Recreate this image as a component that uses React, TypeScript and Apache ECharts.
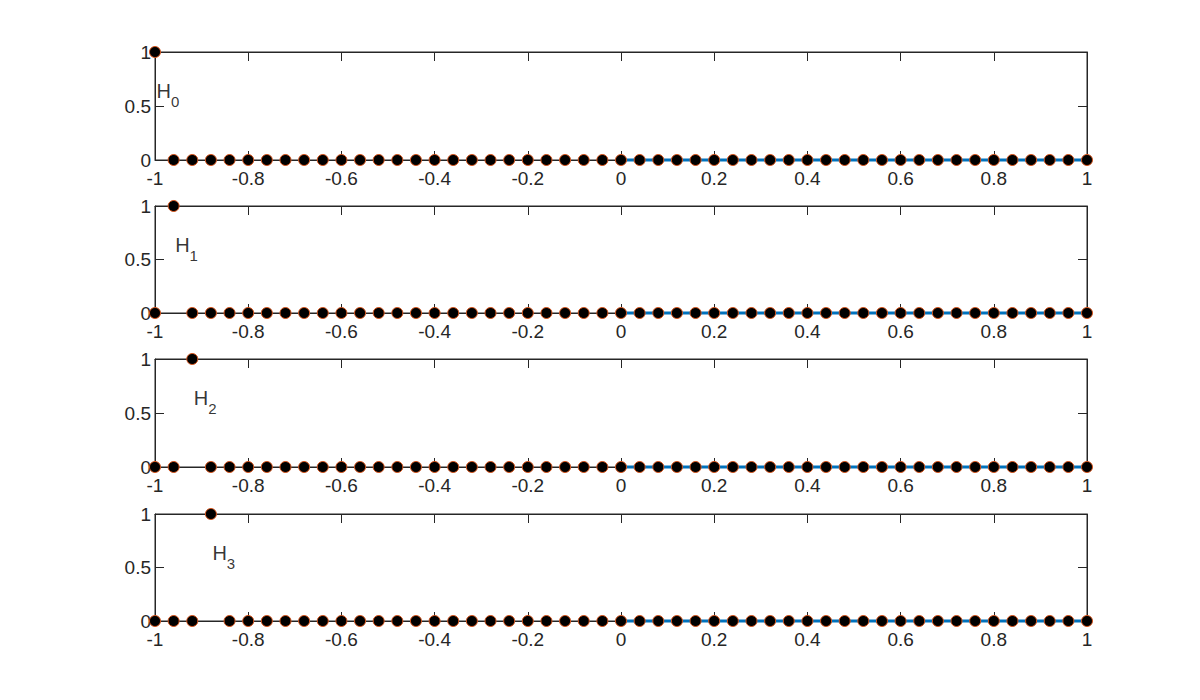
import React, { useEffect, useRef } from "react";
import * as echarts from "echarts";

const xValues = [
  -1, -0.96, -0.92, -0.88, -0.84, -0.8, -0.76, -0.72, -0.68, -0.64,
  -0.6, -0.56, -0.52, -0.48, -0.44, -0.4, -0.36, -0.32, -0.28, -0.24,
  -0.2, -0.16, -0.12, -0.08, -0.04, 0, 0.04, 0.08, 0.12, 0.16,
  0.2, 0.24, 0.28, 0.32, 0.36, 0.4, 0.44, 0.48, 0.52, 0.56,
  0.6, 0.64, 0.68, 0.72, 0.76, 0.8, 0.84, 0.88, 0.92, 0.96, 1,
];

const H0 = [
  1, 0, 0, 0, 0, 0, 0, 0, 0, 0, 0, 0, 0, 0, 0, 0, 0, 0, 0, 0, 0, 0, 0, 0, 0,
  0, 0, 0, 0, 0, 0, 0, 0, 0, 0, 0, 0, 0, 0, 0, 0, 0, 0, 0, 0, 0, 0, 0, 0, 0, 0,
];
const H1 = [
  0, 1, 0, 0, 0, 0, 0, 0, 0, 0, 0, 0, 0, 0, 0, 0, 0, 0, 0, 0, 0, 0, 0, 0, 0,
  0, 0, 0, 0, 0, 0, 0, 0, 0, 0, 0, 0, 0, 0, 0, 0, 0, 0, 0, 0, 0, 0, 0, 0, 0, 0,
];
const H2 = [
  0, 0, 1, 0, 0, 0, 0, 0, 0, 0, 0, 0, 0, 0, 0, 0, 0, 0, 0, 0, 0, 0, 0, 0, 0,
  0, 0, 0, 0, 0, 0, 0, 0, 0, 0, 0, 0, 0, 0, 0, 0, 0, 0, 0, 0, 0, 0, 0, 0, 0, 0,
];
const H3 = [
  0, 0, 0, 1, 0, 0, 0, 0, 0, 0, 0, 0, 0, 0, 0, 0, 0, 0, 0, 0, 0, 0, 0, 0, 0,
  0, 0, 0, 0, 0, 0, 0, 0, 0, 0, 0, 0, 0, 0, 0, 0, 0, 0, 0, 0, 0, 0, 0, 0, 0, 0,
];
const seriesValues = [H0, H1, H2, H3];

const labelSubscripts = ["0", "1", "2", "3"];
const labelX = [-1, -0.96, -0.92, -0.88];
const labelY = [0.6, 0.6, 0.6, 0.6];

const lineX = [0, 1];
const lineY = [0, 0];

const gridTops = [52, 206, 359, 514];
const gridHeights = [108, 107, 108, 107];

const AX = "#262626";
const FONT = "Liberation Sans";

export default function App() {
  const ref = useRef<HTMLDivElement>(null);

  useEffect(() => {
    if (!ref.current) return;
    const chart = echarts.init(ref.current, undefined, { renderer: "svg" });

    const grids: any[] = [];
    const xAxes: any[] = [];
    const yAxes: any[] = [];
    const series: any[] = [];

    const tick = { show: true, inside: true, length: 9, lineStyle: { color: AX, width: 1 } };
    const line = { show: true, onZero: false, lineStyle: { color: AX, width: 1 } };
    const fmt = (v: number) => String(parseFloat(v.toFixed(2)));

    for (let i = 0; i < 4; i++) {
      grids.push({
        left: 155,
        right: 113,
        top: gridTops[i],
        height: gridHeights[i],
        show: true,
        borderColor: AX,
        borderWidth: 1,
        backgroundColor: "#fff",
      });
      xAxes.push({
        gridIndex: i,
        type: "value",
        min: -1,
        max: 1,
        interval: 0.2,
        position: "bottom",
        axisLine: line,
        axisTick: tick,
        splitLine: { show: false },
        axisLabel: {
          show: true,
          color: AX,
          fontSize: 19,
          fontFamily: FONT,
          margin: 9,
          formatter: fmt,
        },
      });
      xAxes.push({
        gridIndex: i,
        type: "value",
        min: -1,
        max: 1,
        interval: 0.2,
        position: "top",
        axisLine: line,
        axisTick: tick,
        splitLine: { show: false },
        axisLabel: { show: false },
      });
      yAxes.push({
        gridIndex: i,
        type: "value",
        min: 0,
        max: 1,
        interval: 0.5,
        position: "left",
        axisLine: line,
        axisTick: tick,
        splitLine: { show: false },
        axisLabel: {
          show: true,
          color: AX,
          fontSize: 19,
          fontFamily: FONT,
          margin: 4,
          formatter: fmt,
        },
      });
      yAxes.push({
        gridIndex: i,
        type: "value",
        min: 0,
        max: 1,
        interval: 0.5,
        position: "right",
        axisLine: line,
        axisTick: tick,
        splitLine: { show: false },
        axisLabel: { show: false },
      });

      series.push({
        type: "line",
        xAxisIndex: 2 * i,
        yAxisIndex: 2 * i,
        data: lineX.map((x, j) => [x, lineY[j]]),
        symbol: "none",
        lineStyle: { color: "#0072BD", width: 3 },
        z: 3,
        clip: false,
        silent: true,
      });
      series.push({
        type: "scatter",
        xAxisIndex: 2 * i,
        yAxisIndex: 2 * i,
        data: xValues.map((x, j) => [x, seriesValues[i][j]]),
        symbol: "circle",
        symbolSize: 11,
        itemStyle: { color: "#000", borderColor: "#D95319", borderWidth: 1, opacity: 1 },
        z: 4,
        clip: false,
        silent: true,
      });
      series.push({
        type: "scatter",
        xAxisIndex: 2 * i,
        yAxisIndex: 2 * i,
        data: [[labelX[i], labelY[i]]],
        symbol: "circle",
        symbolSize: 1,
        itemStyle: { color: "rgba(0,0,0,0)" },
        z: 5,
        clip: false,
        silent: true,
        label: {
          show: true,
          position: "right",
          distance: 1,
          formatter: () => `{h|H}{s|${labelSubscripts[i]}}`,
          rich: {
            h: {
              fontSize: 20,
              fontFamily: FONT,
              color: "#000",
              verticalAlign: "bottom",
              padding: [0, 0, 8, 0],
            },
            s: {
              fontSize: 15,
              fontFamily: FONT,
              color: "#000",
              verticalAlign: "bottom",
            },
          },
        },
      });
    }

    chart.setOption({
      animation: false,
      backgroundColor: "#fff",
      grid: grids,
      xAxis: xAxes,
      yAxis: yAxes,
      series,
    });

    return () => chart.dispose();
  }, []);

  return (
    <div
      ref={ref}
      style={{ position: "absolute", left: 0, top: 0, width: 1200, height: 700, background: "#fff" }}
    />
  );
}
